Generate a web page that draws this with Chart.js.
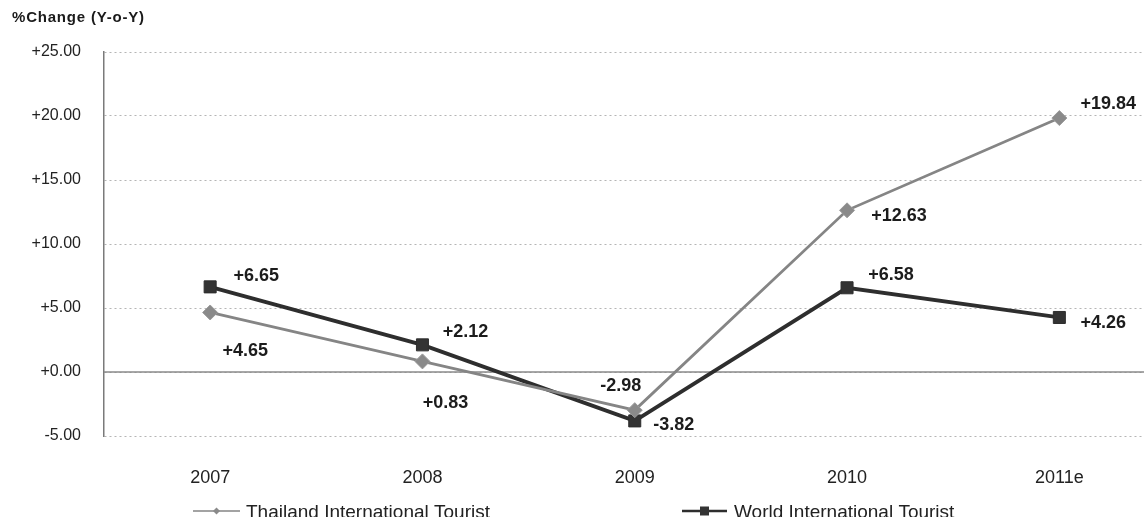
<!DOCTYPE html>
<html>
<head>
<meta charset="utf-8">
<title>%Change (Y-o-Y)</title>
<script src="https://cdn.jsdelivr.net/npm/chart.js@4/dist/chart.umd.min.js"></script>
<style>
  html, body { margin: 0; padding: 0; background: #fff; overflow: hidden; }
  #wrap { width: 1144px; height: 517px; overflow: hidden; }
  canvas { display: block; }
</style>
</head>
<body>
<div id="wrap"><canvas id="chart" width="1175" height="517"></canvas></div>
<script>
// Year-on-year change in international tourist arrivals (%)
const years = ['2007', '2008', '2009', '2010', '2011e'];
const thailandChange = [4.65, 0.83, -2.98, 12.63, 19.84];
const worldChange = [6.65, 2.12, -3.82, 6.58, 4.26];
const yTicks = [-5, 0, 5, 10, 15, 20, 25];
const seriesNames = ['Thailand International Tourist', 'World International Tourist'];
const axisTitle = '%Change (Y-o-Y)';

// where each value label sits relative to its point (dx, dy in px)
const labelOffsets = [
  [[35, 39], [23, 42], [-14, -24], [52, 6], [49, -14]],
  [[46, -11], [43, -13], [39, 4], [44, -13], [44, 6]]
];

const FONT = "'Liberation Sans', Arial, Helvetica, sans-serif";
const fmt = v => (v >= 0 ? '+' : '') + v.toFixed(2);

// title, solid zero line, value labels and the bottom legend
const extras = {
  id: 'extras',
  beforeDatasetsDraw(chart) {
    const { ctx, chartArea, scales } = chart;
    const y0 = scales.y.getPixelForValue(0);
    ctx.save();
    ctx.strokeStyle = '#8a8a8a';
    ctx.lineWidth = 1.5;
    ctx.beginPath();
    ctx.moveTo(chartArea.left, y0);
    ctx.lineTo(chartArea.right, y0);
    ctx.stroke();
    ctx.restore();
  },
  afterDatasetsDraw(chart) {
    const { ctx } = chart;
    ctx.save();
    // value labels
    ctx.font = 'bold 18px ' + FONT;
    ctx.fillStyle = '#1c1c1c';
    ctx.textAlign = 'center';
    ctx.textBaseline = 'middle';
    chart.data.datasets.forEach((ds, di) => {
      chart.getDatasetMeta(di).data.forEach((pt, i) => {
        const [dx, dy] = labelOffsets[di][i];
        ctx.fillText(fmt(ds.data[i]), pt.x + dx, pt.y + dy);
      });
    });
    // axis title
    ctx.font = 'bold 15px ' + FONT;
    ctx.letterSpacing = '0.8px';
    ctx.textAlign = 'left';
    ctx.fillStyle = '#1a1a1a';
    ctx.fillText(axisTitle, 12, 18);
    ctx.letterSpacing = '0px';
    // legend
    const items = [
      { x0: 193, x1: 240, tx: 246 },
      { x0: 682, x1: 727, tx: 734 }
    ];
    const ly = 511;
    ctx.font = '19px ' + FONT;
    ctx.textBaseline = 'alphabetic';
    chart.data.datasets.forEach((ds, di) => {
      const it = items[di];
      ctx.strokeStyle = ds.borderColor;
      ctx.lineWidth = di === 0 ? 1.5 : 2.5;
      ctx.beginPath();
      ctx.moveTo(it.x0, ly);
      ctx.lineTo(it.x1, ly);
      ctx.stroke();
      const cx = (it.x0 + it.x1) / 2;
      ctx.fillStyle = ds.pointBackgroundColor;
      ctx.beginPath();
      if (di === 0) {
        ctx.moveTo(cx - 3.5, ly); ctx.lineTo(cx, ly - 3.5);
        ctx.lineTo(cx + 3.5, ly); ctx.lineTo(cx, ly + 3.5);
        ctx.closePath();
      } else {
        ctx.rect(cx - 4.5, ly - 4.5, 9, 9);
      }
      ctx.fill();
      ctx.fillStyle = '#222';
      ctx.fillText(seriesNames[di], it.tx, 518);
    });
    ctx.restore();
  }
};

new Chart(document.getElementById('chart'), {
  type: 'line',
  data: {
    labels: years,
    datasets: [
      {
        label: seriesNames[0],
        data: thailandChange,
        borderColor: '#858585',
        borderWidth: 2.8,
        pointStyle: 'rectRot',
        pointRadius: 7.5,
        pointBackgroundColor: '#8a8a8a',
        pointBorderColor: '#9a9a9a',
        pointBorderWidth: 1,
        tension: 0
      },
      {
        label: seriesNames[1],
        data: worldChange,
        borderColor: '#2e2e2e',
        borderWidth: 3.8,
        pointStyle: 'rect',
        pointRadius: 8.5,
        pointBackgroundColor: '#333333',
        pointBorderColor: '#2e2e2e',
        pointBorderWidth: 1,
        tension: 0
      }
    ]
  },
  options: {
    responsive: false,
    animation: false,
    devicePixelRatio: 1,
    layout: { padding: { top: 52, right: 3.5, bottom: 0, left: 0 } },
    plugins: {
      legend: { display: false },
      title: { display: false },
      tooltip: { enabled: false }
    },
    scales: {
      x: {
        offset: true,
        grid: { display: false },
        border: { display: false },
        ticks: {
          font: { family: FONT, size: 18 },
          color: '#222',
          padding: 23
        },
        afterFit(scale) { scale.height = 81; }
      },
      y: {
        min: -5,
        max: 25,
        afterBuildTicks(scale) { scale.ticks = yTicks.map(v => ({ value: v })); },
        grid: {
          color: '#b5b5b5',
          lineWidth: 1,
          drawTicks: false
        },
        border: { display: true, color: '#7a7a7a', width: 1.5, dash: [2, 3] },
        ticks: {
          font: { family: FONT, size: 16 },
          color: '#222',
          padding: 23,
          callback: v => fmt(v)
        },
        afterFit(scale) { scale.width = 104; }
      }
    }
  },
  plugins: [extras]
});
</script>
</body>
</html>
